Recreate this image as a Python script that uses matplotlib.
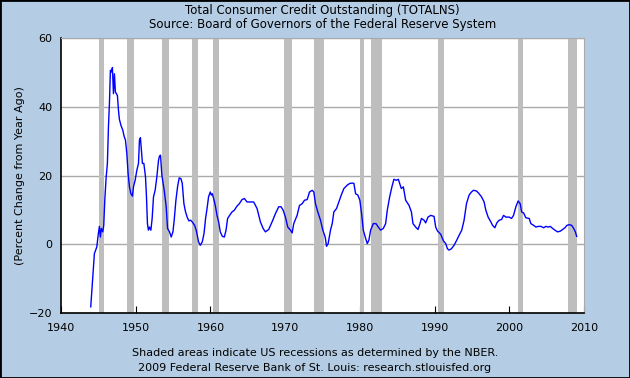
import numpy as np
import matplotlib
matplotlib.use("Agg")
import matplotlib.pyplot as plt
from matplotlib.patches import Rectangle

# percent change from year ago
years = [1943.98, 1944.2, 1944.33, 1944.47, 1944.79, 1945.0, 1945.14, 1945.27, 1945.4, 1945.59,
         1945.72, 1945.86, 1946.03, 1946.21, 1946.35, 1946.48, 1946.61, 1946.75, 1946.88, 1947.02,
         1947.15, 1947.28, 1947.55, 1947.69, 1947.82, 1948.05, 1948.27, 1948.45, 1948.63, 1948.81,
         1948.98, 1949.16, 1949.35, 1949.56, 1949.7, 1949.92, 1950.15, 1950.37, 1950.5, 1950.63,
         1950.77, 1950.9, 1951.09, 1951.31, 1951.44, 1951.57, 1951.7, 1951.84, 1952.03, 1952.2,
         1952.38, 1952.6, 1952.83, 1953.05, 1953.18, 1953.32, 1953.5, 1953.81, 1954.08, 1954.26,
         1954.52, 1954.75, 1954.98, 1955.15, 1955.38, 1955.6, 1955.82, 1956.05, 1956.23, 1956.45,
         1956.67, 1956.9, 1957.12, 1957.34, 1957.57, 1957.88, 1958.1, 1958.41, 1958.64, 1958.91,
         1959.14, 1959.35, 1959.58, 1959.75, 1959.98, 1960.12, 1960.25, 1960.43, 1960.65, 1960.88,
         1961.1, 1961.32, 1961.59, 1961.86, 1962.09, 1962.3, 1962.57, 1962.89, 1963.2, 1963.56,
         1963.87, 1964.23, 1964.54, 1964.9, 1965.35, 1965.79, 1966.24, 1966.69, 1967.05, 1967.36,
         1967.8, 1968.25, 1968.7, 1969.14, 1969.46, 1969.73, 1970.04, 1970.35, 1970.71, 1970.94,
         1971.15, 1971.6, 1971.92, 1972.28, 1972.59, 1972.95, 1973.26, 1973.62, 1973.84, 1974.06,
         1974.37, 1974.73, 1975.04, 1975.36, 1975.54, 1975.76, 1976.07, 1976.3, 1976.52, 1976.88,
         1977.19, 1977.51, 1977.86, 1978.31, 1978.66, 1979.02, 1979.2, 1979.43, 1979.74, 1980.0,
         1980.23, 1980.46, 1980.77, 1980.99, 1981.21, 1981.44, 1981.8, 1982.15, 1982.47, 1982.78,
         1983.14, 1983.45, 1983.67, 1983.99, 1984.29, 1984.56, 1984.88, 1985.15, 1985.33, 1985.55,
         1985.82, 1986.13, 1986.58, 1986.9, 1987.11, 1987.47, 1987.78, 1988.05, 1988.24, 1988.59,
         1988.81, 1989.12, 1989.48, 1989.93, 1990.15, 1990.38, 1990.82, 1991.18, 1991.49, 1991.72,
         1991.94, 1992.26, 1992.61, 1992.97, 1993.28, 1993.64, 1993.95, 1994.27, 1994.62, 1994.94,
         1995.21, 1995.61, 1995.96, 1996.28, 1996.63, 1996.86, 1997.17, 1997.53, 1997.76, 1998.07,
         1998.33, 1998.64, 1998.97, 1999.23, 1999.54, 1999.99, 2000.3, 2000.57, 2000.88, 2001.19,
         2001.46, 2001.65, 2001.92, 2002.22, 2002.67, 2002.89, 2003.26, 2003.56, 2003.87, 2004.23,
         2004.6, 2004.9, 2005.21, 2005.48, 2005.8, 2006.11, 2006.47, 2006.82, 2007.14, 2007.45,
         2007.72, 2008.03, 2008.35, 2008.62, 2008.84, 2009.02]
pct_change = [-18.2, -11.4, -7.6, -2.7, -0.8, 3.1, 5.2, 2.1, 4.6, 3.6,
              5.5, 12.8, 19.1, 23.5, 34.1, 40.9, 50.6, 50.1, 51.4, 43.8,
              49.6, 44.3, 43.3, 39.0, 36.3, 34.4, 33.2, 31.4, 30.3, 26.4,
              20.6, 16.7, 14.7, 14.0, 16.7, 18.6, 21.5, 23.5, 30.3, 31.0,
              27.3, 23.5, 23.5, 19.6, 13.8, 6.0, 4.1, 5.0, 4.1, 7.5,
              13.8, 15.7, 19.6, 24.4, 25.6, 25.9, 20.1, 15.7, 10.9, 4.6,
              3.6, 2.1, 3.6, 7.0, 12.8, 16.7, 19.3, 19.1, 17.7, 11.8,
              9.4, 7.8, 6.8, 7.0, 6.5, 5.5, 4.1, 0.7, -0.3, 0.7,
              3.1, 7.5, 10.9, 13.8, 15.2, 14.3, 14.7, 13.3, 11.3, 8.4,
              6.5, 3.6, 2.3, 2.1, 4.1, 7.5, 8.4, 9.4, 9.9, 11.1,
              11.8, 13.0, 13.3, 12.3, 12.3, 12.3, 10.4, 6.5, 4.6, 3.6,
              4.3, 6.5, 8.9, 10.9, 10.9, 9.9, 7.9, 5.0, 4.1, 3.3,
              6.0, 8.4, 11.3, 11.8, 12.8, 13.0, 15.2, 15.7, 15.2, 11.8,
              9.4, 7.0, 4.1, 2.1, -0.6, 0.2, 4.1, 6.0, 9.4, 10.4,
              12.3, 14.3, 16.2, 17.2, 17.7, 17.8, 17.7, 14.7, 14.3, 12.8,
              8.9, 4.1, 1.7, 0.2, 1.2, 4.1, 6.0, 6.0, 5.0, 4.1,
              4.6, 6.0, 9.9, 13.8, 16.7, 18.9, 18.6, 18.9, 17.7, 16.2,
              16.7, 12.8, 11.3, 9.4, 6.0, 5.0, 4.3, 6.0, 7.5, 7.0,
              6.2, 7.9, 8.4, 8.1, 5.0, 3.9, 2.9, 1.0, 0.2, -1.3,
              -1.7, -1.3, -0.3, 1.2, 2.6, 4.1, 7.0, 11.8, 14.3, 15.2,
              15.7, 15.5, 14.7, 13.8, 12.3, 9.9, 7.9, 6.5, 5.5, 4.8,
              6.2, 7.0, 7.2, 8.4, 7.9, 7.9, 7.5, 8.4, 10.9, 12.6,
              11.8, 9.4, 9.1, 7.7, 7.5, 6.0, 5.5, 5.0, 5.2, 5.2,
              4.8, 5.2, 5.0, 5.2, 4.6, 4.1, 3.6, 3.8, 4.3, 4.8,
              5.5, 5.7, 5.5, 4.6, 3.6, 2.3]

# NBER recessions (start, end)
rec_start = [1945.1, 1948.9, 1953.5, 1957.6, 1960.3, 1969.9, 1973.9, 1980.0, 1981.5, 1990.5, 2001.2, 2007.9]
rec_end = [1945.8, 1949.8, 1954.4, 1958.3, 1961.1, 1970.9, 1975.2, 1980.5, 1982.9, 1991.2, 2001.9, 2009.1]

bg = '#b4cde4'
fig = plt.figure(figsize=(6.3, 3.78), dpi=100, facecolor=bg)
ax = fig.add_axes([61/630, 1 - 313/378, 523/630, 275/378])
ax.set_facecolor('white')

for s, e in zip(rec_start, rec_end):
    ax.axvspan(s, e, color='#bebebe', lw=0, zorder=1)

ax.set_xlim(1940, 2010)
ax.set_ylim(-20, 60)
ax.set_xticks(range(1940, 2011, 10))
ax.set_yticks(range(-20, 61, 20))
ax.grid(axis='y', color='#aaaaaa', lw=1, zorder=0)
ax.set_axisbelow(True)
ax.plot(years, pct_change, color='#0000ff', lw=1, zorder=3)

for side in ['top', 'right']:
    ax.spines[side].set_color('#aaaaaa')
for side in ['left', 'bottom']:
    ax.spines[side].set_color('black')
    ax.spines[side].set_linewidth(1.2)
ax.tick_params(axis='x', direction='in', length=5, labelsize=8, pad=7, colors='black')
ax.tick_params(axis='y', length=0, labelsize=8, pad=6)
ax.set_ylabel('(Percent Change from Year Ago)', fontsize=8, labelpad=3)

ax.set_title('Total Consumer Credit Outstanding (TOTALNS)\n'
             'Source: Board of Governors of the Federal Reserve System',
             fontsize=8.5, pad=7, linespacing=1.15)

fig.text(0.5, 1 - 353/378, 'Shaded areas indicate US recessions as determined by the NBER.',
         ha='center', va='center', fontsize=8)
fig.text(0.5, 1 - 368/378, '2009 Federal Reserve Bank of St. Louis: research.stlouisfed.org',
         ha='center', va='center', fontsize=8)

# outer black frame
fig.patches.append(Rectangle((0, 0), 1, 1, transform=fig.transFigure,
                             fill=False, edgecolor='black', lw=2))

fig.savefig('out.png', dpi=100, facecolor=bg)
